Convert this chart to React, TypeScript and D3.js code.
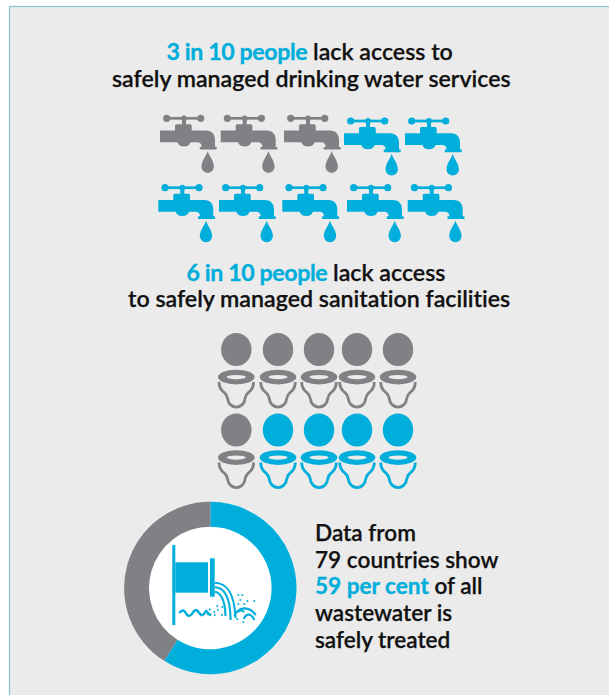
import React from "react";
import * as d3 from "d3";

const WIDTH = 609;
const HEIGHT = 695;
const BLUE = "#00aedb";
const GREY = "#808184";
const PANEL = "#ebebeb";
const EDGE = "#82c6cf";
const FONT = "Lato, 'Noto Sans', sans-serif";

// Figures stated in the copy
const waterLacking = 3;
const sanitationLacking = 6;
const peoplePerRow = 5;
const treatedShare = [59, 41];
const shareColors = [BLUE, GREY];

type Part = { text: string; hi?: boolean };
const waterHeading: Part[][] = [
  [{ text: "3 in 10 people", hi: true }, { text: " lack access to" }],
  [{ text: "safely managed drinking water services" }],
];
const sanitationHeading: Part[][] = [
  [{ text: "6 in 10 people", hi: true }, { text: " lack access" }],
  [{ text: "to safely managed sanitation facilities" }],
];
const wastewaterCopy: Part[][] = [
  [{ text: "Data from" }],
  [{ text: "79 countries show" }],
  [{ text: "59 per cent", hi: true }, { text: " of all" }],
  [{ text: "wastewater is" }],
  [{ text: "safely treated" }],
];

const slots = d3.range(peoplePerRow);

// The hand-set icon rows are not evenly spaced, so columns map through piecewise scales
const faucetX = [
  d3.scaleLinear().domain(slots).range([160, 220.7, 284, 344, 405]),
  d3.scaleLinear().domain(slots).range([158.3, 219, 282.3, 347, 407.7]),
];
const toiletX = d3.scaleLinear().domain(slots).range([236.3, 278, 319, 357, 398]);
const toiletRowY = d3.scaleLinear().domain([0, 1]).range([349.5, 430]);
const faucetRowY = d3.scaleLinear().domain([0, 1]).range([118.3, 187.7]);

const donutCx = 210.3;
const donutCy = 588;
const donutPie = d3.pie<number>().sort(null);
const donutArc = d3.arc<d3.PieArcDatum<number>>().innerRadius(61.3).outerRadius(86.2);

const FAUCET_BODY =
  "M0,12.2 H15 V7.5 Q15,6 16.5,6 H30.2 Q31.7,6 31.7,7.5 V12.2 H46 C52,12.2 55,16 55,22 V28.6 H56.7 V31.2 H39.8 V28.6 H41.7 C41.7,25.5 40,24 37,24 H30.7 A7,6 0 0 1 17.3,24 H0 Z";
const DROP = "M47.7,32.7 C48.8,37.5 53.9,42 53.9,48.4 A6.2,6.2 0 0 1 41.5,48.4 C41.5,42 46.6,37.5 47.7,32.7 Z";
const BOWL =
  "M-17.3,5 C-17.3,11 -15,13.5 -12,15.5 C-9.5,17.5 -9,19.5 -8.7,21.5 C-8.2,27 -4,30 0,30 C4,30 8.2,27 8.7,21.5 C9,19.5 9.5,17.5 12,15.5 C15,13.5 17.3,11 17.3,5";

function Faucet({ x, y, color }: { x: number; y: number; color: string }) {
  return (
    <g transform={`translate(${x},${y})`} fill={color}>
      <rect x={5} y={-1.35} width={36} height={2.7} />
      <circle cx={6.7} cy={0} r={3.6} />
      <circle cx={24} cy={0} r={2.9} />
      <circle cx={40.7} cy={0} r={3.6} />
      <rect x={22} y={0} width={4} height={7} />
      <path d={FAUCET_BODY} />
      <path d={DROP} />
    </g>
  );
}

function Toilet({ x, y, color }: { x: number; y: number; color: string }) {
  return (
    <g transform={`translate(${x},${y})`}>
      <ellipse cx={0} cy={0} rx={15.2} ry={16.6} fill={color} />
      <g transform="translate(0,27.6)">
        <path d={BOWL} fill="none" stroke={color} strokeWidth={2.8} />
        <ellipse cx={0} cy={0} rx={18.3} ry={7.4} fill={color} />
        <ellipse cx={0} cy={0} rx={9.6} ry={2.1} fill={PANEL} />
      </g>
    </g>
  );
}

function TextLines({
  lines,
  xs,
  ys,
  size,
  tighten = 0,
}: {
  lines: Part[][];
  xs: number[];
  ys: number[];
  size: number;
  tighten?: number;
}) {
  return (
    <g
      fontFamily={FONT}
      fontSize={size}
      fontWeight={600}
      fill="#111"
      stroke="#111"
      strokeWidth={0.25}
      style={{ fontVariantLigatures: "none" }}
    >
      {lines.map((parts, i) => (
        <text key={i} x={xs[i]} y={ys[i]} style={{ whiteSpace: "pre" }}>
          {parts.map((p, j) =>
            p.hi ? (
              <tspan key={j} fill={BLUE} stroke={BLUE} strokeWidth={0.3} fontWeight={700} letterSpacing={-tighten}>
                {p.text}
              </tspan>
            ) : (
              <tspan key={j}>{p.text}</tspan>
            )
          )}
        </text>
      ))}
    </g>
  );
}

// Outfall pictogram in the middle of the ring, drawn around the ring's centre
function Outfall() {
  const jets = [
    "M4.4,-5.3 C15,-5 24,2 25.2,30",
    "M4.4,-0.7 C12,-0.5 20,6 20.3,32",
    "M4.4,3.7 C9,4 15,10 15.2,28",
  ];
  const splashes = [
    "M24,28 C28,19 38,17 45.5,27",
    "M33.5,31 C36,25 41,25 44,32",
    "M28,24 C30,22 32,22 34,24",
  ];
  const dots: [number, number][] = [
    [-0.5, 21.5], [4, 24], [7, 18], [7.5, 22], [12, 19], [4.5, 27], [11.5, 27],
    [28, 7], [30, 12], [32, 7], [34, 16], [37, 13], [44, 13], [28, 16], [27, 31], [33, 34],
  ];
  return (
    <g transform={`translate(${donutCx},${donutCy})`} fill={BLUE}>
      <rect x={-38} y={-43} width={3} height={80} />
      <rect x={-35} y={-25.7} width={32.7} height={30.4} />
      <rect x={-0.3} y={-29.7} width={4.7} height={38.4} />
      {jets.map((d, i) => (
        <path key={i} d={d} fill="none" stroke={BLUE} strokeWidth={2.1} />
      ))}
      {splashes.map((d, i) => (
        <path key={i} d={d} fill="none" stroke={BLUE} strokeWidth={2.1} />
      ))}
      <path
        d="M-31,25 C-28,21 -26,22 -24,26 C-22,29 -19,28 -17,24 C-15,21 -13,22 -11,25 C-9,28 -7,28 -5,24 C-4,22 -3,23 -2,26 L1,27"
        fill="none"
        stroke={BLUE}
        strokeWidth={2.5}
      />
      {dots.map(([x, y], i) => (
        <circle key={i} cx={x} cy={y} r={1} />
      ))}
    </g>
  );
}

export default function App() {
  const slices = donutPie(treatedShare);
  return (
    <svg
      width={WIDTH}
      height={HEIGHT}
      viewBox={`0 0 ${WIDTH} ${HEIGHT}`}
      style={{ position: "absolute", left: 0, top: 0, background: "#fff" }}
    >
      <rect x={9.5} y={6.5} width={WIDTH + 10} height={HEIGHT + 10} fill={PANEL} stroke={EDGE} strokeWidth={1.2} />

      <TextLines lines={waterHeading} xs={[166.5, 112]} ys={[60, 86.7]} size={23.2} tighten={0.4} />
      <TextLines lines={sanitationHeading} xs={[186.5, 128]} ys={[281, 307.3]} size={23.2} tighten={0.4} />
      <TextLines lines={wastewaterCopy} xs={[315, 315, 315, 315, 315]} ys={[541, 567.7, 594.3, 621, 647.7]} size={22.6} />

      {[0, 1].map((row) =>
        slots.map((col) => {
          const n = row * peoplePerRow + col;
          const lacking = n < waterLacking;
          const dip = row === 0 && !lacking ? 2.7 : 0;
          return (
            <Faucet
              key={n}
              x={faucetX[row](col)}
              y={faucetRowY(row) + dip}
              color={lacking ? GREY : BLUE}
            />
          );
        })
      )}

      {[0, 1].map((row) =>
        slots.map((col) => {
          const n = row * peoplePerRow + col;
          return (
            <Toilet
              key={n}
              x={toiletX(col)}
              y={toiletRowY(row)}
              color={n < sanitationLacking ? GREY : BLUE}
            />
          );
        })
      )}

      <g transform={`translate(${donutCx},${donutCy})`}>
        <circle r={62} fill="#fff" />
        {slices.map((s, i) => (
          <path key={i} d={donutArc(s) ?? ""} fill={shareColors[i]} />
        ))}
      </g>
      <Outfall />
    </svg>
  );
}
